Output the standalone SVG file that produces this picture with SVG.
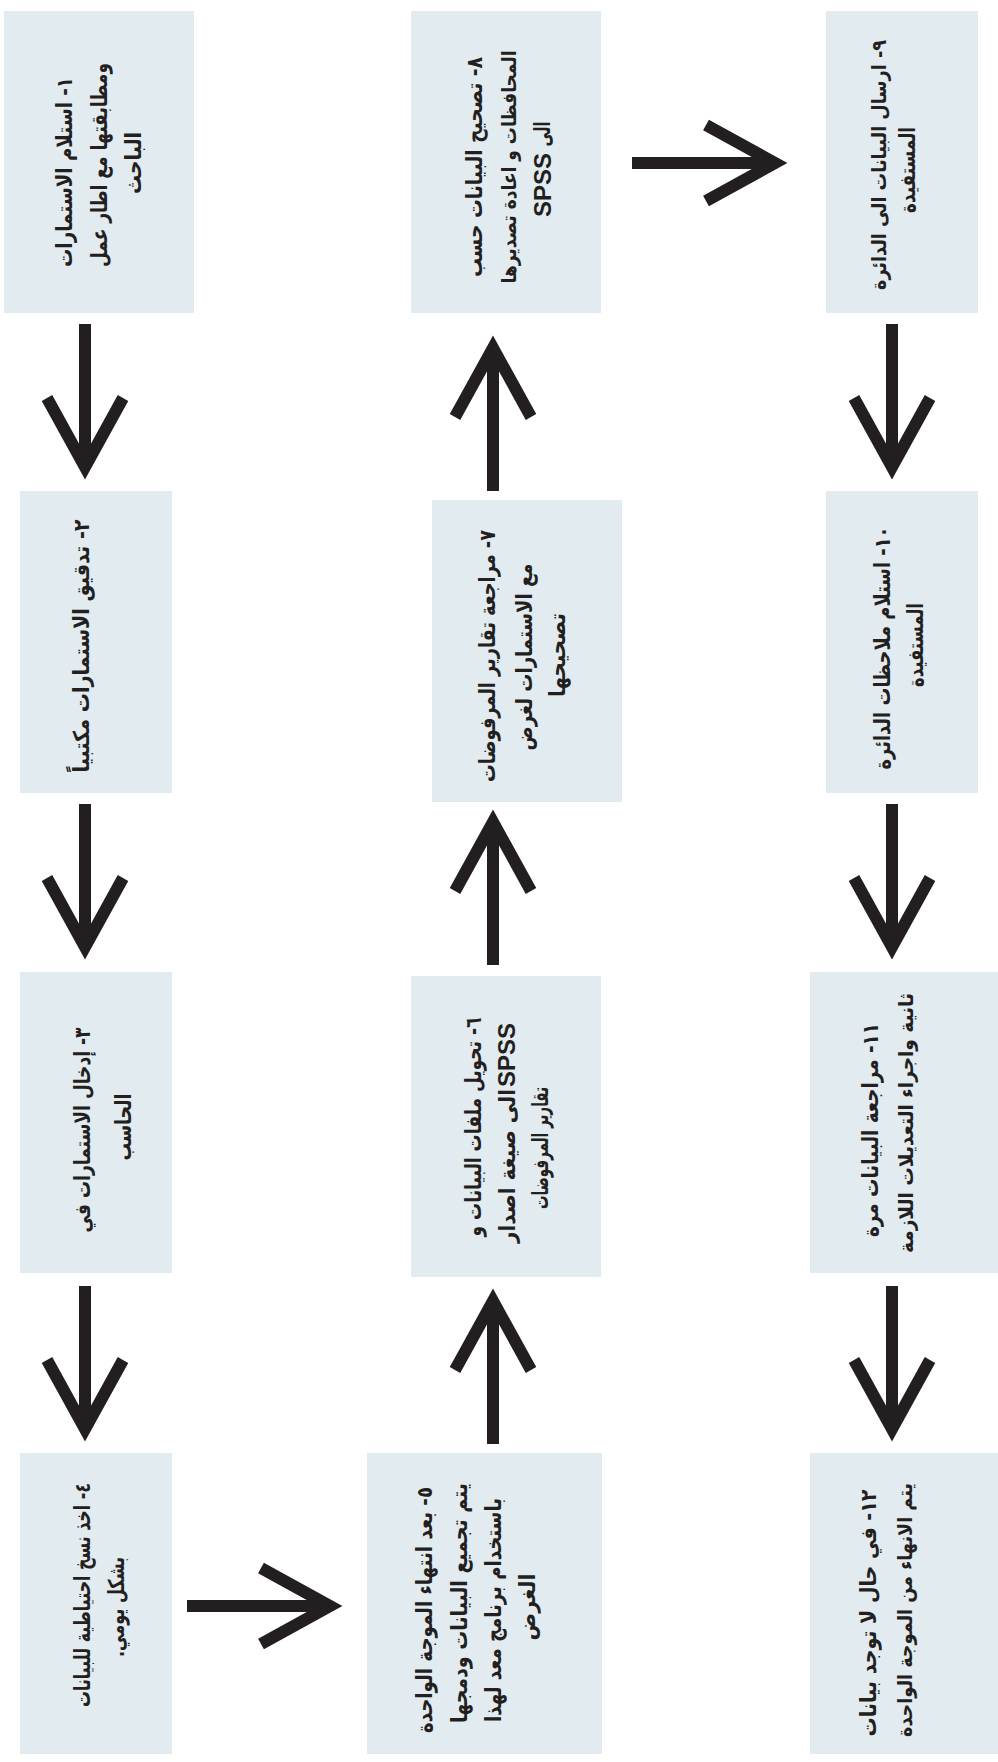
<svg xmlns="http://www.w3.org/2000/svg" xmlns:xlink="http://www.w3.org/1999/xlink" width="998" height="1762" viewBox="0 0 998 1762">
<style>
.box{fill:#e2ebf0;}
.t{font-family:"DejaVu Sans",sans-serif;font-weight:bold;font-size:22px;fill:#231f20;direction:rtl;text-anchor:middle;}
.sm{font-size:20px;}
.s{font-family:"Liberation Sans",Arial,sans-serif;font-weight:bold;font-size:24px;fill:#231f20;text-anchor:middle;}
.arr{fill:none;stroke:#231f20;stroke-width:12;stroke-linejoin:miter;stroke-miterlimit:6;}
</style>
<defs>
<g id="arrow">
<path class="arr" d="M-156,0 L-14,0 M-82,-38 L-13,0 L-82,38"/>
</g>
</defs>
<rect width="998" height="1762" fill="#ffffff"/>
<g id="connectors">
<use xlink:href="#arrow" href="#arrow" transform="translate(85,480) rotate(90)"/>
<use xlink:href="#arrow" href="#arrow" transform="translate(85,960) rotate(90)"/>
<use xlink:href="#arrow" href="#arrow" transform="translate(85,1442) rotate(90)"/>
<use xlink:href="#arrow" href="#arrow" transform="translate(343,1606)"/>
<use xlink:href="#arrow" href="#arrow" transform="translate(493,1288) rotate(-90)"/>
<use xlink:href="#arrow" href="#arrow" transform="translate(493,809) rotate(-90)"/>
<use xlink:href="#arrow" href="#arrow" transform="translate(493,335) rotate(-90)"/>
<use xlink:href="#arrow" href="#arrow" transform="translate(788,163)"/>
<use xlink:href="#arrow" href="#arrow" transform="translate(892,480) rotate(90)"/>
<use xlink:href="#arrow" href="#arrow" transform="translate(892,960) rotate(90)"/>
<use xlink:href="#arrow" href="#arrow" transform="translate(892,1442) rotate(90)"/>
</g>
<g id="node1">
<rect class="box" x="4" y="11" width="190" height="302"/>
<text class="t" transform="rotate(-90)"><tspan x="-172" y="72" textLength="190" lengthAdjust="spacingAndGlyphs">١- استلام الاستمارات</tspan><tspan x="-165" y="107" textLength="204" lengthAdjust="spacingAndGlyphs">ومطابقتها مع اطار عمل</tspan><tspan x="-163" y="141" textLength="62" lengthAdjust="spacingAndGlyphs">الباحث</tspan></text>
</g>
<g id="node2">
<rect class="box" x="20" y="491" width="152" height="302"/>
<text class="t" transform="rotate(-90)"><tspan x="-646" y="89" textLength="253" lengthAdjust="spacingAndGlyphs">٢- تدقيق الاستمارات مكتبياً</tspan></text>
</g>
<g id="node3">
<rect class="box" x="20" y="972" width="152" height="301"/>
<text class="t" transform="rotate(-90)"><tspan x="-1130" y="90" textLength="205" lengthAdjust="spacingAndGlyphs">٣- إدخال الاستمارات في</tspan><tspan x="-1127" y="131" textLength="67" lengthAdjust="spacingAndGlyphs">الحاسب</tspan></text>
</g>
<g id="node4">
<rect class="box" x="20" y="1453" width="152" height="301"/>
<text class="t" transform="rotate(-90)"><tspan x="-1595" y="90" textLength="224" lengthAdjust="spacingAndGlyphs">٤- اخذ نسخ احتياطية للبيانات</tspan><tspan x="-1607" y="124" textLength="100" lengthAdjust="spacingAndGlyphs">بشكل يومي.</tspan></text>
</g>
<g id="node5">
<rect class="box" x="367" y="1453" width="235" height="301"/>
<text class="t" transform="rotate(-90)"><tspan x="-1610" y="432" textLength="246" lengthAdjust="spacingAndGlyphs">٥- بعد انتهاء الموجة الواحدة</tspan><tspan x="-1603" y="467" textLength="240" lengthAdjust="spacingAndGlyphs">يتم تجميع البيانات ودمجها</tspan><tspan x="-1610" y="501" textLength="224" lengthAdjust="spacingAndGlyphs">باستخدام برنامج معد لهذا</tspan><tspan x="-1607" y="535" textLength="67" lengthAdjust="spacingAndGlyphs">الغرض</tspan></text>
</g>
<g id="node6">
<rect class="box" x="411" y="976" width="190" height="301"/>
<text class="t" transform="rotate(-90)"><tspan x="-1127" y="481" textLength="219" lengthAdjust="spacingAndGlyphs">٦- تحويل ملفات البيانات و</tspan><tspan x="-1166" y="515" textLength="154" lengthAdjust="spacingAndGlyphs">الى صيغة اصدار</tspan><tspan x="-1148" y="548" textLength="122" lengthAdjust="spacingAndGlyphs">تقارير المرفوضات</tspan></text>
<text class="s" transform="rotate(-90)" x="-1055" y="515">SPSS</text>
</g>
<g id="node7">
<rect class="box" x="432" y="500" width="190" height="302"/>
<text class="t" transform="rotate(-90)"><tspan x="-656" y="495" textLength="252" lengthAdjust="spacingAndGlyphs">٧- مراجعة تقارير المرفوضات</tspan><tspan x="-657" y="532" textLength="187" lengthAdjust="spacingAndGlyphs">مع الاستمارات لغرض</tspan><tspan x="-655" y="565" textLength="84" lengthAdjust="spacingAndGlyphs">تصحيحها</tspan></text>
</g>
<g id="node8">
<rect class="box" x="411" y="11" width="190" height="302"/>
<text class="t" transform="rotate(-90)"><tspan x="-167" y="482" textLength="220" lengthAdjust="spacingAndGlyphs">٨- تصحيح البيانات حسب</tspan><tspan class="sm" x="-167" y="516" textLength="233" lengthAdjust="spacingAndGlyphs">المحافظات و اعادة تصديرها</tspan><tspan x="-134" y="550" textLength="25" lengthAdjust="spacingAndGlyphs">الى</tspan></text>
<text class="s" transform="rotate(-90)" x="-185" y="551">SPSS</text>
</g>
<g id="node9">
<rect class="box" x="826" y="11" width="152" height="302"/>
<text class="t" transform="rotate(-90)"><tspan class="sm" x="-165" y="886" textLength="250" lengthAdjust="spacingAndGlyphs">٩- ارسال البيانات الى الدائرة</tspan><tspan x="-170" y="915" textLength="86" lengthAdjust="spacingAndGlyphs">المستفيدة</tspan></text>
</g>
<g id="node10">
<rect class="box" x="826" y="491" width="152" height="302"/>
<text class="t" transform="rotate(-90)"><tspan x="-648" y="890" textLength="243" lengthAdjust="spacingAndGlyphs">١٠- استلام ملاحظات الدائرة</tspan><tspan x="-645" y="923" textLength="84" lengthAdjust="spacingAndGlyphs">المستفيدة</tspan></text>
</g>
<g id="node11">
<rect class="box" x="810" y="972" width="188" height="301"/>
<text class="t" transform="rotate(-90)"><tspan x="-1130" y="878" textLength="214" lengthAdjust="spacingAndGlyphs">١١- مراجعة البيانات مرة</tspan><tspan class="sm" x="-1123" y="913" textLength="260" lengthAdjust="spacingAndGlyphs">ثانية واجراء التعديلات اللازمة</tspan></text>
</g>
<g id="node12">
<rect class="box" x="810" y="1453" width="188" height="301"/>
<text class="t" transform="rotate(-90)"><tspan x="-1613" y="876" textLength="247" lengthAdjust="spacingAndGlyphs">١٢- في حال لا توجد بيانات</tspan><tspan class="sm" x="-1610" y="912" textLength="254" lengthAdjust="spacingAndGlyphs">يتم الانهاء من الموجة الواحدة</tspan></text>
</g>
</svg>
